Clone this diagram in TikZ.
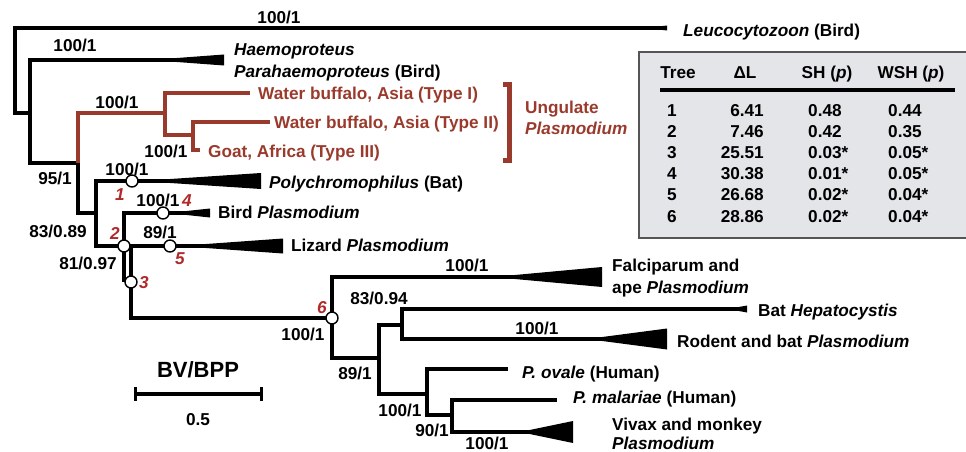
\documentclass[tikz,border=0pt]{standalone}
\usepackage{fontspec}
\setmainfont{Liberation Sans}
\definecolor{ugred}{HTML}{9A3A2C}
\definecolor{rankred}{HTML}{B02A2A}
\definecolor{tabfill}{HTML}{E3E5E8}
\definecolor{tabedge}{HTML}{555555}
\usepackage{tikz}

\begin{document}
\begin{tikzpicture}[x=1pt, y=-1pt,
  br/.style={line width=3.3pt, line join=miter},
  ugbr/.style={br, draw=ugred},
  lbl/.style={font=\fontsize{17.2}{20}\selectfont\bfseries, inner sep=0pt,
              text height=12.3pt, text depth=0pt},
  leaf/.style={lbl, anchor=west},
  ugleaf/.style={leaf, text=ugred},
  rank/.style={lbl, text=rankred, font=\fontsize{17.2}{20}\selectfont\bfseries\itshape},
  bead/.style={circle, draw, fill=white, line width=1.4pt, minimum size=12pt, inner sep=0pt},
]
  \useasboundingbox (0,0) rectangle (966,452);

  \coordinate (root) at (15,113);
  \coordinate (nA)   at (30,113);
  \coordinate (nB)   at (78,163);
  \coordinate (nU)   at (165,113);
  \coordinate (nV)   at (193,135);
  \coordinate (nC)   at (96,213);
  \coordinate (n2)   at (124,246);
  \coordinate (n3)   at (131,282);
  \coordinate (n6)   at (332,318);
  \coordinate (n89)  at (379,358);
  \coordinate (n83)  at (402,325);
  \coordinate (n100) at (427,394);
  \coordinate (n90)  at (452,415);

  \coordinate (lLeu)  at (667,28);
  \coordinate (lHae)  at (224,60);
  \coordinate (lT1)   at (250,93);
  \coordinate (lT2)   at (270,122);
  \coordinate (lGoat) at (200,150);
  \coordinate (lPol)  at (261,181);
  \coordinate (lBird) at (210,213);
  \coordinate (lLiz)  at (283,246);
  \coordinate (lFal)  at (602,277);
  \coordinate (lHep)  at (747,309);
  \coordinate (lRod)  at (667,339);
  \coordinate (lOva)  at (508,369);
  \coordinate (lMal)  at (557,400);
  \coordinate (lViv)  at (573,432);

  \draw[br] (lLeu) -| (root) -- (nA);
  \draw[br] (nA) |- (lHae);
  \draw[br] (nA) |- (nB);
  \draw[ugbr] (nB) |- (nU);
  \draw[ugbr] (nU) |- (lT1);
  \draw[ugbr] (nU) |- (nV);
  \draw[ugbr] (nV) |- (lT2);
  \draw[ugbr] (nV) |- (lGoat);
  \draw[br] (nB) |- (nC);
  \draw[br] (nC) |- (lPol);
  \draw[br] (nC) |- (n2);
  \draw[br] (n2) |- (lBird);
  \draw[br] (n2) -- (lLiz);
  \draw[br] (n2) -- (n2 |- n3);
  \draw[br] (n3 |- n2) -- (n3);
  \draw[br] (n3) |- (n6);
  \draw[br] (n6) |- (lFal);
  \draw[br] (n6) |- (n89);
  \draw[br] (n89) |- (n83);
  \draw[br] (n83) |- (lHep);
  \draw[br] (n83) |- (lRod);
  \draw[br] (n89) |- (n100);
  \draw[br] (n100) |- (lOva);
  \draw[br] (n100) |- (n90);
  \draw[br] (n90) |- (lMal);
  \draw[br] (n90) |- (lViv);

  \fill (645,28) -- (667,25.5) -- (667,30.5) -- cycle;
  \fill (150,60) -- (224,54.5) -- (224,65.5) -- cycle;
  \fill (140,181) -- (261,173) -- (261,189) -- cycle;
  \fill (168,213) -- (210,208.5) -- (210,217.5) -- cycle;
  \fill (178,246) -- (283,238.5) -- (283,253.5) -- cycle;
  \fill (493,277) -- (602,267) -- (602,287) -- cycle;
  \fill (728,309) -- (747,305.5) -- (747,312.5) -- cycle;
  \fill (587,339) -- (667,328.5) -- (667,349.5) -- cycle;
  \fill (520,432) -- (573,421) -- (573,443) -- cycle;

  \node[bead] (b1) at (132,181) {};
  \node[bead] (b2) at (n2) {};
  \node[bead] (b3) at (n3) {};
  \node[bead] (b4) at (163,213) {};
  \node[bead] (b5) at (170,246) {};
  \node[bead] (b6) at (n6) {};

  \node[rank] (r1) at (120,194) {1};
  \node[rank] (r2) at (115,233) {2};
  \node[rank] (r3) at (144,282) {3};
  \node[rank] (r4) at (187,200) {4};
  \node[rank] (r5) at (180,258) {5};
  \node[rank] (r6) at (322,307) {6};

  \node[lbl] (sLeu)  at (279,17)  {100/1};
  \node[lbl] (sHae)  at (75,45)   {100/1};
  \node[lbl] (sUng)  at (117,102) {100/1};
  \node[lbl] (sT23)  at (166,151) {100/1};
  \node[lbl] (sB)    at (55,178)  {95/1};
  \node[lbl] (sPol)  at (127,169) {100/1};
  \node[lbl] (sC)    at (58,231)  {83/0.89};
  \node[lbl] (sBird) at (158,200) {100/1};
  \node[lbl] (sLiz)  at (160,232) {89/1};
  \node[lbl] (s2)    at (88,263)  {81/0.97};
  \node[lbl] (s6)    at (303,334) {100/1};
  \node[lbl] (sFal)  at (467,265) {100/1};
  \node[lbl] (s83)   at (379,298) {83/0.94};
  \node[lbl] (sRod)  at (537,328) {100/1};
  \node[lbl] (s89)   at (355,373) {89/1};
  \node[lbl] (s100)  at (400,410) {100/1};
  \node[lbl] (s90)   at (432,430) {90/1};
  \node[lbl] (sViv)  at (487,443) {100/1};

  \node[leaf] (tLeu)  at (683,30)  {\textit{Leucocytozoon} (Bird)};
  \node[leaf] (tHae)  at (234,49)  {\textit{Haemoproteus}};
  \node[leaf] (tPar)  at (234,71)  {\textit{Parahaemoproteus} (Bird)};
  \node[ugleaf] (tT1)   at (258,93)  {Water buffalo, Asia (Type I)};
  \node[ugleaf] (tT2)   at (274,122) {Water buffalo, Asia (Type II)};
  \node[ugleaf] (tGoat) at (208,151) {Goat, Africa (Type III)};
  \node[ugleaf] (tUng)  at (525,107) {Ungulate};
  \node[ugleaf] (tUngP) at (525,128) {\textit{Plasmodium}};
  \node[leaf] (tPol)  at (269,182) {\textit{Polychromophilus} (Bat)};
  \node[leaf] (tBird) at (218,212) {Bird \textit{Plasmodium}};
  \node[leaf] (tLiz)  at (291,245) {Lizard \textit{Plasmodium}};
  \node[leaf] (tFal)  at (612,265) {Falciparum and};
  \node[leaf] (tFalP) at (612,287) {ape \textit{Plasmodium}};
  \node[leaf] (tHep)  at (758,310) {Bat \textit{Hepatocystis}};
  \node[leaf] (tRod)  at (677,341) {Rodent and bat \textit{Plasmodium}};
  \node[leaf] (tOva)  at (522,372) {\textit{P. ovale} (Human)};
  \node[leaf] (tMal)  at (573,397) {\textit{P. malariae} (Human)};
  \node[leaf] (tViv)  at (612,424) {Vivax and monkey};
  \node[leaf] (tVivP) at (612,443) {\textit{Plasmodium}};

  \draw[ugred, line width=5pt, line join=miter] (503,84) -- (509.5,84) -- (509.5,160) -- (503,160);

  \node[lbl, font=\fontsize{22}{26}\selectfont\bfseries, text height=16pt] (bvbpp) at (198,369) {BV/BPP};
  \coordinate (sbL) at (134,394);
  \coordinate (sbR) at (263,394);
  \draw[line width=4pt] (sbL) -- (sbR);
  \draw[line width=3pt] ([xshift=1.5pt,yshift=-7pt]sbL) -- ([xshift=1.5pt,yshift=7pt]sbL);
  \draw[line width=3pt] ([xshift=-1.5pt,yshift=-7pt]sbR) -- ([xshift=-1.5pt,yshift=7pt]sbR);
  \node[lbl] (half) at (198,419) {0.5};

  \draw[line width=2pt, draw=tabedge, fill=tabfill] (639,52) rectangle (972,238);
  \node[lbl] (hTree) at (678,72) {Tree};
  \node[lbl] (hDL)   at (745,72) {ΔL};
  \node[lbl] (hSH)   at (827,72) {SH (\textit{p})};
  \node[lbl] (hWSH)  at (911,72) {WSH (\textit{p})};
  \draw[line width=3.5pt] (660,90) -- (955,90);
  \foreach \t/\dl/\sh/\wsh in {1/6.41/0.48/0.44, 2/7.46/0.42/0.35, 3/25.51/0.03*/0.05*,
                               4/30.38/0.01*/0.05*, 5/26.68/0.02*/0.04*, 6/28.86/0.02*/0.04*} {
    \node[lbl] (tree\t) at (672,{110+21.2*(\t-1)}) {\t};
    \node[lbl, anchor=east] (dl\t) at (764,{110+21.2*(\t-1)}) {\dl};
    \node[lbl, anchor=west] (sh\t) at (808,{110+21.2*(\t-1)}) {\sh};
    \node[lbl, anchor=west] (wsh\t) at (888,{110+21.2*(\t-1)}) {\wsh};
  }
\end{tikzpicture}
\end{document}
